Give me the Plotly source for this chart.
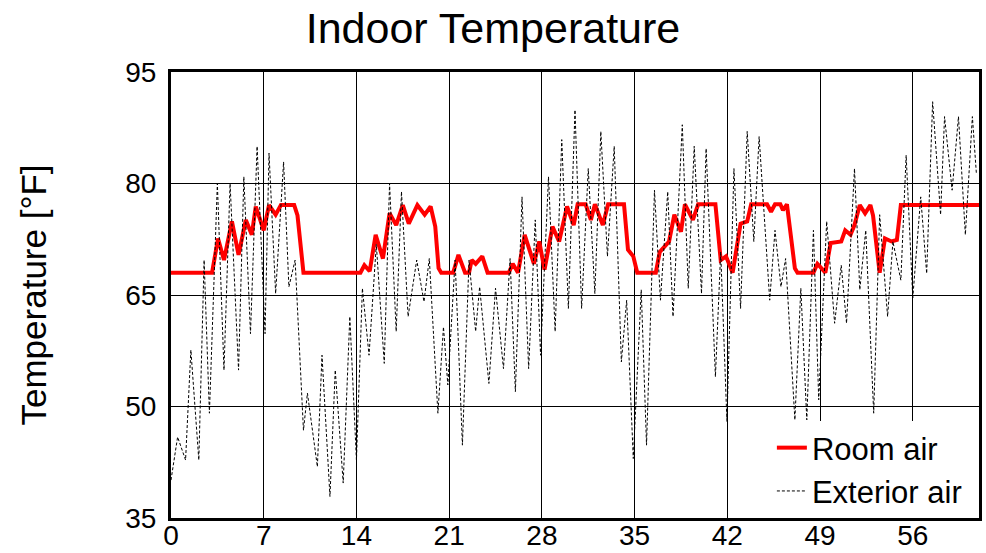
import plotly.graph_objects as go

# Exterior air temperature (days, °F) – read from daily peaks/troughs
ext_day = [0.0, 0.5, 1.1, 1.5, 2.1, 2.5, 2.9, 3.5, 4.0, 4.46, 5.1, 5.5, 6.0, 6.5, 7.1, 7.4, 7.9, 8.5, 8.9, 9.37,
           10.0, 10.3, 11.05, 11.4, 12.0, 12.4, 13.0, 13.5, 14.0, 14.45, 14.95, 15.5, 16.1, 16.5, 17.0, 17.4, 17.9,
           18.55, 19.1, 19.5, 20.15, 20.57, 20.9, 21.45, 22.0, 22.5, 23.0, 23.3, 24.0, 24.5, 25.1, 25.6, 26.0, 26.5,
           27.0, 27.5, 27.9, 28.5, 29.0, 29.5, 30.0, 30.5, 31.0, 31.5, 32.0, 32.45, 32.95, 33.46, 34.0, 34.4, 34.9,
           35.5, 35.9, 36.5, 36.95, 37.5, 37.9, 38.6, 39.05, 39.5, 40.05, 40.4, 41.1, 41.5, 41.97, 42.5, 43.0, 43.5,
           44.0, 44.4, 45.2, 45.6, 46.05, 46.4, 47.1, 47.55, 48.0, 48.5, 48.9, 49.5, 50.1, 50.6, 51.0, 51.6, 52.0,
           52.45, 53.05, 53.5, 54.1, 54.5, 55.1, 55.5, 56.0, 56.6, 57.05, 57.5, 58.1, 58.4, 58.97, 59.45, 59.97,
           60.5, 60.8]
ext_temp = [40.1, 45.9, 42.8, 57.6, 42.8, 69.7, 49.1, 80.0, 54.9, 80.0, 54.9, 80.9, 59.8, 85.0, 59.8, 84.1, 65.2,
            82.9, 66.1, 69.7, 46.8, 51.8, 41.9, 56.9, 37.9, 54.9, 39.7, 62.1, 42.8, 65.9, 56.9, 71.8, 55.8, 80.0,
            60.1, 78.9, 62.1, 69.7, 64.1, 69.9, 49.1, 60.7, 52.9, 69.7, 44.8, 69.7, 60.1, 66.1, 53.1, 65.9, 55.1,
            69.9, 52.0, 78.2, 55.1, 75.1, 56.9, 80.9, 60.1, 85.9, 63.2, 89.9, 63.2, 82.0, 65.2, 87.0, 70.2, 85.0,
            56.0, 64.3, 43.0, 65.7, 44.8, 79.1, 64.3, 78.9, 62.1, 87.9, 65.9, 85.0, 65.2, 84.7, 54.0, 70.8, 48.0,
            82.0, 63.2, 87.0, 72.2, 86.3, 64.3, 73.7, 66.1, 69.9, 48.2, 65.9, 48.2, 73.7, 50.9, 74.9, 61.2, 69.0,
            61.2, 82.0, 65.7, 73.7, 49.1, 75.8, 62.1, 72.2, 67.0, 83.8, 64.6, 78.2, 67.9, 91.0, 75.8, 89.0, 79.1,
            89.0, 73.1, 89.0, 81.4]

# Room air temperature (days, °F)
room_day = [0, 3.1, 3.55, 4.0, 4.6, 5.1, 5.65, 6.1, 6.4, 7.0, 7.4, 7.9, 8.3, 9.3, 9.55, 9.8, 10.0, 14.3, 14.6,
            15.0, 15.45, 16.0, 16.5, 17.0, 17.5, 17.95, 18.6, 19.15, 19.6, 19.95, 20.2, 20.4, 21.3, 21.7, 22.2,
            22.5, 22.7, 23.0, 23.5, 23.9, 25.5, 25.8, 26.2, 26.7, 27.4, 27.8, 28.2, 28.8, 29.3, 29.9, 30.4, 30.7,
            31.3, 31.7, 32.0, 32.6, 33.0, 34.2, 34.5, 34.9, 35.2, 36.6, 36.9, 37.6, 38.0, 38.5, 38.8, 39.4, 39.8,
            41.1, 41.5, 41.9, 42.4, 43.0, 43.5, 43.8, 45.0, 45.3, 45.6, 46.0, 46.2, 46.5, 47.1, 47.3, 48.5, 48.8,
            49.4, 49.8, 50.6, 50.9, 51.3, 51.6, 52.0, 52.4, 52.8, 53.0, 53.5, 53.9, 54.4, 54.8, 55.1, 61.0]
room_temp = [68, 68, 72.6, 69.7, 74.9, 70.4, 75.1, 73.1, 76.9, 73.7, 77.1, 75.8, 77.1, 77.1, 75.7, 70.8, 68, 68,
             69.0, 68.2, 73.1, 69.9, 76.0, 74.4, 77.1, 74.6, 77.1, 75.8, 76.9, 74.2, 68.6, 68, 68, 70.4, 68, 68,
             69.7, 69.2, 70.2, 68, 68, 69.2, 68, 73.1, 69.2, 72.2, 68.4, 74.2, 72.2, 76.9, 74.4, 77.2, 77.2, 75.1,
             77.2, 74.4, 77.2, 77.2, 71.1, 70.2, 68, 68, 70.8, 72.2, 75.8, 73.5, 77.2, 75.1, 77.2, 77.2, 69.7, 70.2,
             68, 74.6, 74.9, 77.2, 77.2, 76.2, 77.2, 77.2, 76.4, 77.2, 68.6, 68, 68, 69.2, 68, 72, 72.2, 73.7, 73.1,
             74.4, 77.1, 76.0, 77.1, 75.7, 68, 72.6, 72.2, 72.4, 77.1, 77.1]

x_ticks = [0, 7, 14, 21, 28, 35, 42, 49, 56]
y_ticks = [35, 50, 65, 80, 95]

FONT = "Liberation Sans, Arial, sans-serif"

fig = go.Figure()
fig.add_trace(go.Scatter(x=room_day, y=room_temp, mode="lines", name="Room air",
                         line=dict(color="#ff0000", width=4)))
fig.add_trace(go.Scatter(x=ext_day, y=ext_temp, mode="lines", name="Exterior air",
                         line=dict(color="black", width=1, dash="3px,2px")))

axis_common = dict(showgrid=True, gridcolor="black", gridwidth=1, showline=True, linecolor="black",
                   linewidth=3, mirror=True, ticks="", zeroline=False, automargin=False,
                   tickfont=dict(family=FONT, size=28, color="black"))

fig.update_layout(
    width=986, height=553,
    margin=dict(l=171, r=7, t=72, b=35),
    paper_bgcolor="white", plot_bgcolor="white",
    title=dict(text="Indoor Temperature", font=dict(family=FONT, size=43, color="black"),
               x=0.5, xref="container", xanchor="center", y=0.95, yref="container", yanchor="middle"),
    xaxis=dict(range=[0, 61], tickvals=x_ticks, ticklabelstandoff=-10, **axis_common),
    yaxis=dict(range=[35, 95], tickvals=y_ticks, ticklabelstandoff=6,
               title=dict(text="Temperature [°F]", font=dict(family=FONT, size=35, color="black"), standoff=68),
               **axis_common),
    showlegend=True,
    legend=dict(x=0.985, xanchor="right", y=0.0, yanchor="bottom", bgcolor="white", borderwidth=0,
                font=dict(family=FONT, size=31, color="black"), traceorder="normal"),
)

fig.write_html("out.html")
